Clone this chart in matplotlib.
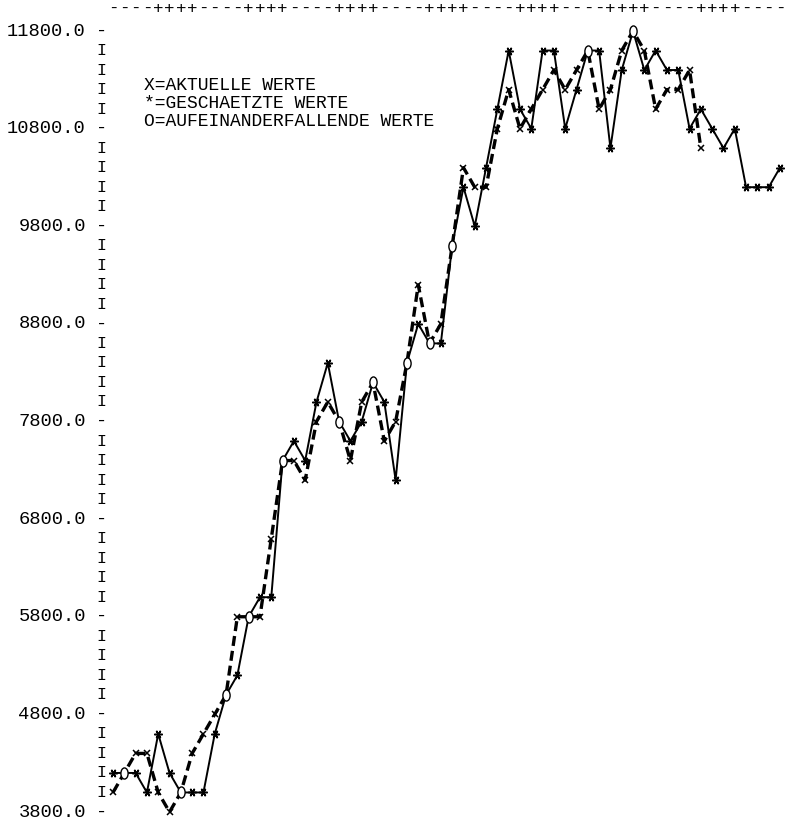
"""
Line-printer style chart: actual vs. estimated values.
"""

import matplotlib.pyplot as plt
import numpy as np
from matplotlib.path import Path
from matplotlib.transforms import Affine2D

# period index (one printer column per period)
periods = list(range(60))

# X = actual values (dashed), ends earlier than the estimates
actual = [4000, 4200, 4400, 4400, 4000, 3800, 4000, 4400, 4600, 4800,
          5000, 5800, 5800, 5800, 6600, 7400, 7400, 7200, 7800, 8000,
          7800, 7400, 8000, 8200, 7600, 7800, 8400, 9200, 8600, 8800,
          9600, 10400, 10200, 10200, 10800, 11200, 10800, 11000, 11200, 11400,
          11200, 11400, 11600, 11000, 11200, 11600, 11800, 11600, 11000, 11200,
          11200, 11400, 10600]

# * = estimated values (solid)
estimated = [4200, 4200, 4200, 4000, 4600, 4200, 4000, 4000, 4000, 4600,
             5000, 5200, 5800, 6000, 6000, 7400, 7600, 7400, 8000, 8400,
             7800, 7600, 7800, 8200, 8000, 7200, 8400, 8800, 8600, 8600,
             9600, 10200, 9800, 10400, 11000, 11600, 11000, 10800, 11600, 11600,
             10800, 11200, 11600, 11600, 10600, 11400, 11800, 11400, 11600, 11400,
             11400, 10800, 11000, 10800, 10600, 10800, 10200, 10200, 10200, 10400]

y_labels = [11800, 10800, 9800, 8800, 7800, 6800, 5800, 4800, 3800]
row_step = 200
top_border = "----++++"

legend_lines = ["X=AKTUELLE WERTE",
                "*=GESCHAETZTE WERTE",
                "O=AUFEINANDERFALLENDE WERTE"]

plt.rcParams['font.family'] = ['Liberation Mono', 'DejaVu Sans Mono']
FS = 13.5

fig = plt.figure(figsize=(7.85, 8.21), dpi=100)
ax = fig.add_axes([113 / 785, 9 / 821, 667 / 785, 781 / 821])
ax.set_xlim(0, 59)
ax.set_ylim(3800, 11800)
ax.axis('off')

# y axis made of printer characters
for v in np.arange(3800, 11801, row_step):
    if v in y_labels:
        ax.text(-2.4, v, f"{v:.1f}", ha='right', va='center', fontsize=FS)
        ax.text(-1.0, v, "-", ha='center', va='center', fontsize=FS)
    else:
        ax.text(-1.0, v, "I", ha='center', va='center', fontsize=FS - 1.5)

# top border
for i in periods:
    ax.text(i, 12035, top_border[i % len(top_border)],
            ha='center', va='center', fontsize=FS - 1)

# legend text
for k, line in enumerate(legend_lines):
    ax.text(2.75, 11240 - k * 185, line, ha='left', va='center', fontsize=FS - 0.5)

# lines
n_act = len(actual)
ax.plot(periods, estimated, '-', color='black', lw=1.4, clip_on=False, zorder=2)
ax.plot(periods[:n_act], actual, '--', color='black', lw=2.4,
        dashes=(3, 1.5), clip_on=False, zorder=2)

# markers
est = np.array(estimated)
act = np.array(actual)
per = np.array(periods)
same = est[:n_act] == act
ax.plot(per[:n_act][~same], act[~same], 'x', color='black', ms=5, mew=1.1,
        clip_on=False, zorder=3)
est_only = np.ones(len(est), dtype=bool)
est_only[:n_act] = ~same
ax.plot(per[est_only], est[est_only], marker=(6, 2, 90), ls='none',
        color='black', ms=6, mew=1.1, clip_on=False, zorder=3)
oval = Path.unit_circle().transformed(Affine2D().scale(0.65, 1.0))
ax.plot(per[:n_act][same], act[same], marker=oval, ls='none', mfc='white',
        mec='black', ms=8, mew=1.0, clip_on=False, zorder=4)

fig.savefig("out.png", dpi=100, facecolor='white')
plt.close(fig)
